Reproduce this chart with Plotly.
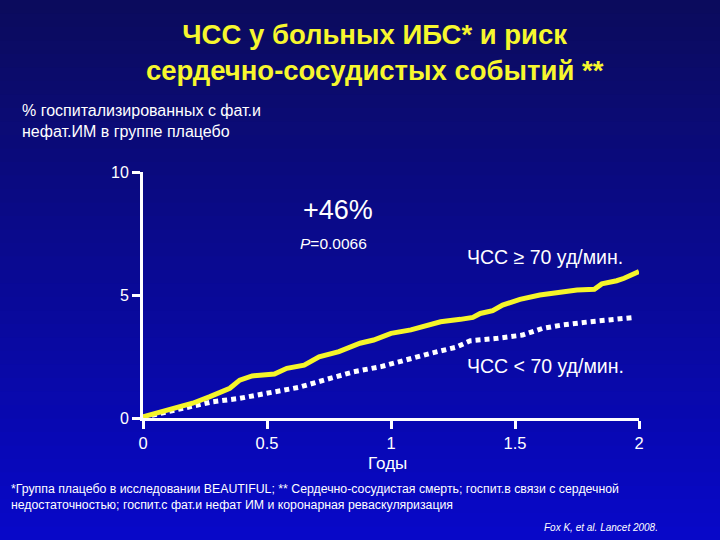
import plotly.graph_objects as go

# yellow: HR >= 70 bpm, white dotted: HR < 70 bpm
years_hi = [0, 0.12, 0.20, 0.27, 0.35, 0.39, 0.44, 0.53, 0.58, 0.65, 0.71, 0.79, 0.875,
            0.93, 1.0, 1.08, 1.13, 1.20, 1.28, 1.33, 1.36, 1.41, 1.45, 1.52, 1.60, 1.67,
            1.75, 1.82, 1.85, 1.91, 1.94, 2.0]
pct_hi = [0.05, 0.39, 0.60, 0.87, 1.21, 1.54, 1.71, 1.79, 2.02, 2.15, 2.49, 2.70, 3.04,
          3.17, 3.44, 3.58, 3.71, 3.91, 4.01, 4.09, 4.25, 4.36, 4.59, 4.82, 5.00, 5.09,
          5.20, 5.23, 5.45, 5.58, 5.68, 5.95]
years_lo = [0, 0.15, 0.28, 0.39, 0.53, 0.63, 0.74, 0.85, 0.96, 1.03, 1.16, 1.26, 1.32,
            1.43, 1.53, 1.61, 1.69, 1.80, 1.88, 1.98]
pct_lo = [0.03, 0.39, 0.66, 0.80, 1.07, 1.25, 1.57, 1.88, 2.09, 2.29, 2.63, 2.87, 3.14,
          3.24, 3.37, 3.64, 3.78, 3.91, 4.01, 4.09]

x_ticks = [0, 0.5, 1, 1.5, 2]
x_labels = ["0", "0.5", "1", "1.5", "2"]
y_ticks = [0, 5, 10]

font = "Liberation Sans, Arial, sans-serif"
W, H = 720, 540
L, R, T, B = 143, 81, 172, 122
pw, ph = W - L - R, H - T - B


def px(x):
    return (x - L) / pw


def py(y):
    return (H - B - y) / ph


fig = go.Figure()
fig.add_trace(go.Scatter(x=years_lo, y=pct_lo, mode="lines",
                         line=dict(color="white", width=5, dash="5px,4px"), cliponaxis=False))
fig.add_trace(go.Scatter(x=years_hi, y=pct_hi, mode="lines",
                         line=dict(color="#f5f52a", width=5), cliponaxis=False))

# background gradient, dark navy on top to bright blue below
n = 40
for k in range(n):
    f = (k + 0.5) / n
    r = int(12 - 4 * f)
    g = int(12 - 4 * f)
    b = int(92 + 110 * f)
    fig.add_shape(type="rect", xref="paper", yref="paper", layer="below",
                  x0=px(-5), x1=px(W + 5), y0=py(H * (k + 1) / n + 1), y1=py(H * k / n),
                  fillcolor=f"rgb({r},{g},{b})", line_width=0)


def txt(s, x, y, size, color="white", anchor="left"):
    fig.add_annotation(text=s, x=px(x), y=py(y), xref="paper", yref="paper",
                       showarrow=False, xanchor=anchor, yanchor="middle", align=anchor,
                       font=dict(size=size, color=color, family=font))


txt("<b>ЧСС у больных ИБС* и риск<br>сердечно-сосудистых событий **</b>", 375, 52, 27.5,
    color="#f7f72e", anchor="center")
txt("% госпитализированных с фат.и<br>нефат.ИМ в группе плацебо", 20, 121, 16)
txt("+46%", 338, 210, 27, anchor="center")
txt("<i>P</i>=0.0066", 333, 243, 15.5, anchor="center")
txt("ЧСС ≥ 70 уд/мин.", 545, 257, 19.5, anchor="center")
txt("ЧСС < 70 уд/мин.", 545, 366, 19.5, anchor="center")
txt("Годы", 387, 463, 17, anchor="center")
txt("*Группа плацебо в исследовании BEAUTIFUL; ** Сердечно-сосудистая смерть; госпит.в связи с сердечной<br>"
    "недостаточностью; госпит.с фат.и нефат ИМ и коронарная реваскуляризация", 9, 497, 12.3)
txt("<i>Fox K, et al. Lancet 2008.</i>", 660, 527, 10, anchor="right")

fig.update_layout(
    width=W, height=H,
    margin=dict(l=L, r=R, t=T, b=B),
    paper_bgcolor="#0b0c8c", plot_bgcolor="rgba(0,0,0,0)",
    showlegend=False,
    font=dict(family=font, color="white", size=14),
)
fig.update_xaxes(range=[0, 2], tickvals=x_ticks, ticktext=x_labels, showgrid=False,
                 zeroline=False, showline=True, linecolor="white", linewidth=3,
                 ticks="outside", ticklen=8, tickwidth=3, tickcolor="white",
                 tickfont=dict(size=16.5, color="white"))
fig.update_yaxes(range=[0, 10], tickvals=y_ticks, showgrid=False, zeroline=False,
                 showline=True, linecolor="white", linewidth=3,
                 ticks="outside", ticklen=8, tickwidth=3, tickcolor="white",
                 tickfont=dict(size=16, color="white"))

fig.write_html("out.html", config={"displayModeBar": False},
               post_script="document.body.style.margin='0';")
